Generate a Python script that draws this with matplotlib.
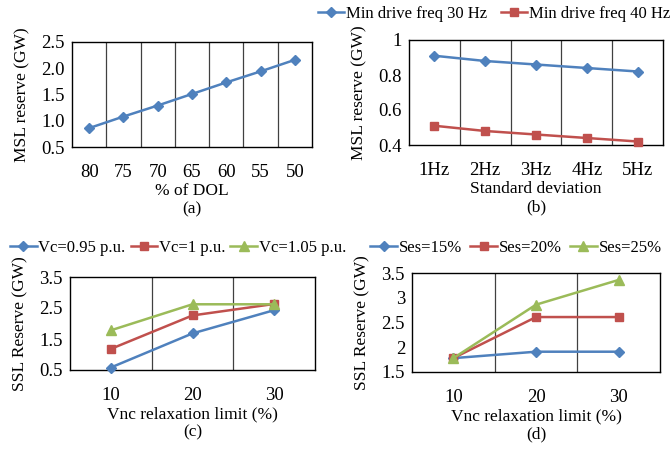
import matplotlib
matplotlib.use("Agg")
import matplotlib.pyplot as plt

plt.rcParams['font.family'] = ['Liberation Serif', 'DejaVu Serif']
plt.rcParams['font.size'] = 12.5

BLUE = '#4F81BD'
RED = '#C0504D'
GREEN = '#9BBB59'

# (a) MSL reserve vs % of DOL
dol_labels = ['80', '75', '70', '65', '60', '55', '50']
msl_dol = [0.86, 1.08, 1.29, 1.51, 1.73, 1.94, 2.16]

# (b) MSL reserve vs standard deviation
sd_labels = ['1Hz', '2Hz', '3Hz', '4Hz', '5Hz']
msl_30hz = [0.91, 0.88, 0.86, 0.84, 0.82]
msl_40hz = [0.51, 0.48, 0.46, 0.44, 0.42]

# (c) SSL reserve vs Vnc relaxation limit, by Vc
vnc_labels = ['10', '20', '30']
ssl_vc095 = [0.58, 1.68, 2.43]
ssl_vc100 = [1.18, 2.26, 2.63]
ssl_vc105 = [1.78, 2.62, 2.62]

# (d) SSL reserve vs Vnc relaxation limit, by Ses
ssl_ses15 = [1.78, 1.91, 1.91]
ssl_ses20 = [1.78, 2.61, 2.61]
ssl_ses25 = [1.78, 2.86, 3.36]

W, H = 671, 449
fig = plt.figure(figsize=(W / 100, H / 100), dpi=100)


def px_axes(left, top, right, bottom):
    return fig.add_axes([left / W, 1 - bottom / H, (right - left) / W, (bottom - top) / H])


def style_cat_axis(ax, labels, ylim, yticks, yticklabels, ylabel, xlabel):
    n = len(labels)
    ax.set_xlim(-0.5, n - 0.5)
    ax.set_xticks(range(n))
    ax.set_xticklabels(labels)
    ax.set_ylim(*ylim)
    ax.set_yticks(yticks)
    ax.set_yticklabels(yticklabels)
    for b in range(n - 1):
        ax.axvline(b + 0.5, color='#404040', lw=0.9, zorder=1)
    ax.tick_params(length=0, pad=12, axis='x', labelsize=13.5)
    ax.tick_params(length=0, pad=5, axis='y', labelsize=13.5)
    for s in ax.spines.values():
        s.set_linewidth(1.0)
        s.set_color('black')
    ax.set_ylabel(ylabel, labelpad=8)
    ax.set_xlabel(xlabel, linespacing=1.2, labelpad=2)


line_kw = dict(lw=1.8, zorder=3, clip_on=False)
leg_kw = dict(loc='center', bbox_transform=fig.transFigure, frameon=False,
              handlelength=1.6, handletextpad=0.1, borderaxespad=0, borderpad=0,
              fontsize=12)

# (a)
ax = px_axes(72, 42, 312, 147)
x = range(len(dol_labels))
ax.plot(x, msl_dol, color=BLUE, marker='D', ms=5.5, **line_kw)
style_cat_axis(ax, dol_labels, (0.5, 2.5), [0.5, 1.0, 1.5, 2.0, 2.5],
               ['0.5', '1.0', '1.5', '2.0', '2.5'], 'MSL reserve (GW)', '% of DOL\n(a)')

# (b)
ax = px_axes(409, 40, 663, 145)
x = range(len(sd_labels))
ax.plot(x, msl_30hz, color=BLUE, marker='D', ms=5.5, label='Min drive freq 30 Hz', **line_kw)
ax.plot(x, msl_40hz, color=RED, marker='s', ms=6, label='Min drive freq 40 Hz', **line_kw)
style_cat_axis(ax, sd_labels, (0.4, 1.0), [0.4, 0.6, 0.8, 1.0],
               ['0.4', '0.6', '0.8', '1'], 'MSL reserve (GW)', 'Standard deviation\n(b)')
ax.legend(bbox_to_anchor=(494 / W, 1 - 14 / H), ncol=2, columnspacing=0.8, **leg_kw)

# (c)
ax = px_axes(70, 277, 315, 370)
x = range(len(vnc_labels))
ax.plot(x, ssl_vc095, color=BLUE, marker='D', ms=5.5, label='Vc=0.95 p.u.', **line_kw)
ax.plot(x, ssl_vc100, color=RED, marker='s', ms=6, label='Vc=1 p.u.', **line_kw)
ax.plot(x, ssl_vc105, color=GREEN, marker='^', ms=6.5, label='Vc=1.05 p.u.', **line_kw)
style_cat_axis(ax, vnc_labels, (0.5, 3.5), [0.5, 1.5, 2.5, 3.5],
               ['0.5', '1.5', '2.5', '3.5'], 'SSL Reserve (GW)', 'Vnc relaxation limit (%)\n(c)')
ax.legend(bbox_to_anchor=(178 / W, 1 - 248 / H), ncol=3, columnspacing=0.3, **leg_kw)

# (d)
ax = px_axes(412, 273, 660, 372)
ax.plot(x, ssl_ses15, color=BLUE, marker='D', ms=5.5, label='Ses=15%', **line_kw)
ax.plot(x, ssl_ses20, color=RED, marker='s', ms=6, label='Ses=20%', **line_kw)
ax.plot(x, ssl_ses25, color=GREEN, marker='^', ms=6.5, label='Ses=25%', **line_kw)
style_cat_axis(ax, vnc_labels, (1.5, 3.5), [1.5, 2.0, 2.5, 3.0, 3.5],
               ['1.5', '2', '2.5', '3', '3.5'], 'SSL Reserve (GW)', 'Vnc relaxation limit (%)\n(d)')
ax.legend(bbox_to_anchor=(516 / W, 1 - 248 / H), ncol=3, columnspacing=0.5, **leg_kw)

fig.savefig('out.png', dpi=100)
